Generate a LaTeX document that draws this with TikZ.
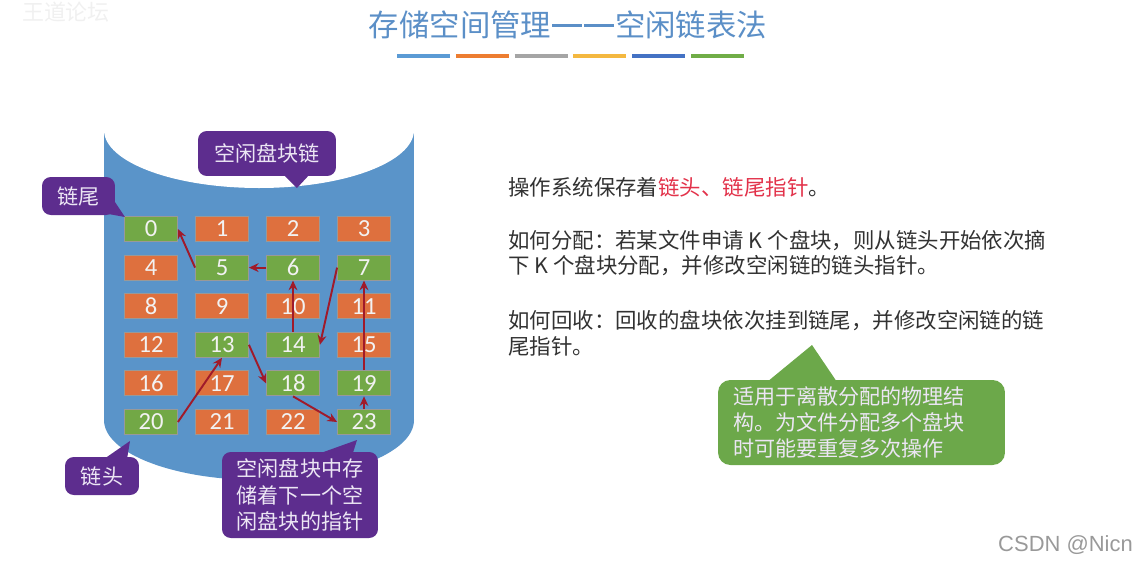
\documentclass[tikz,border=0pt]{standalone}
\usepackage{fontspec}
\setmainfont{Carlito}
\newfontfamily\cjk{Noto Sans CJK SC}
\newfontfamily\wmfont{Liberation Sans}
\usetikzlibrary{arrows.meta,positioning,calc}

\definecolor{titleblue}{RGB}{91,143,199}
\definecolor{lnA}{RGB}{91,155,213}
\definecolor{lnB}{RGB}{237,125,49}
\definecolor{lnC}{RGB}{165,165,165}
\definecolor{lnD}{RGB}{244,184,64}
\definecolor{lnE}{RGB}{68,114,196}
\definecolor{lnF}{RGB}{112,173,71}
\definecolor{cylblue}{RGB}{90,148,201}
\definecolor{blkorg}{RGB}{222,112,62}
\definecolor{blkgrn}{RGB}{114,168,70}
\definecolor{lnkred}{RGB}{160,26,42}
\definecolor{callpurple}{RGB}{93,45,142}
\definecolor{callgreen}{RGB}{108,168,74}
\definecolor{calltext}{RGB}{236,230,244}
\definecolor{txtgray}{RGB}{50,50,50}
\definecolor{hlred}{RGB}{226,50,74}

\newcommand\wdash{\makebox[1.05em]{\rule[0.33em]{1em}{0.07em}}}

\begin{document}
\begin{tikzpicture}[
  x=0.02cm, y=-0.02cm,
  >={Stealth[length=5.5pt,width=5pt]},
  ttl/.style  = {font=\cjk\fontsize{17.3}{19}\selectfont, text=titleblue, inner sep=0pt},
  blk/.style  = {draw=black!40, line width=0.5pt, minimum width=1.06cm,
                 minimum height=0.5cm, inner sep=0pt, text=white!95!black,
                 font=\fontsize{14}{15}\selectfont},
  lnk/.style  = {->, line width=1.1pt, draw=lnkred},
  callp/.style = {fill=callpurple, rounded corners=5pt, text=calltext,
                  font=\cjk\fontsize{12}{15.3}\selectfont, inner sep=0pt, align=center},
  callg/.style = {fill=callgreen, rounded corners=7pt, text=calltext,
                  font=\cjk\fontsize{12}{14.7}\selectfont, inner ysep=0pt,
                  inner xsep=0.3cm, align=left},
  txt/.style  = {anchor=west, align=left, text=txtgray, inner sep=0pt,
                 font=\cjk\fontsize{12.2}{14.7}\selectfont},
]
\useasboundingbox (0,0) rectangle (1142,565);

% watermarks
\node[font=\cjk\fontsize{12.5}{14}\selectfont, text=black!6] (wm) at (66,12) {王道论坛};
\node[font=\wmfont\fontsize{12.5}{14}\selectfont, text=black!40, anchor=east] (csdn) at (1139,545) {CSDN @Nicn};

% title
\node[ttl] (title) at (568,25) {存储空间管理\wdash\wdash 空闲链表法};
\foreach \i/\c in {0/lnA,1/lnB,2/lnC,3/lnD,4/lnE,5/lnF}{
  \draw[line width=2.3pt,\c] ({397+58.8*\i},56) -- ++(53,0);
}

% disk
\def\cx{259} \def\rx{155}
\fill[cylblue] (\cx-\rx,130) rectangle (\cx+\rx,420);
\fill[cylblue] (\cx,420) ellipse [x radius=\rx, y radius=60];
\fill[white]   (\cx,130) ellipse [x radius=\rx, y radius=58];

% blocks
\foreach \n/\c in {0/grn,1/org,2/org,3/org,4/org,5/grn,6/grn,7/grn,
                   8/org,9/org,10/org,11/org,12/org,13/grn,14/grn,15/org,
                   16/org,17/org,18/grn,19/grn,20/grn,21/org,22/org,23/grn}{
  \pgfmathtruncatemacro\col{mod(\n,4)}
  \pgfmathtruncatemacro\row{\n/4}
  \node[blk,fill=blk\c] (b\n) at ({151+71*\col},{229+38.6*\row}) {\n};
}

% free chain
\draw[lnk] (b20.east)  -- (b13.south);
\draw[lnk] (b13.east)  -- (b18.west);
\draw[lnk] (b18.south) -- (b23.west);
\draw[lnk] (b23.north) -- (b19.south);
\draw[lnk] (b19.north) -- (b7.south);
\draw[lnk] (b7.west)   -- (b14.east);
\draw[lnk] (b14.north) -- (b6.south);
\draw[lnk] (b6.west)   -- (b5.east);
\draw[lnk] (b5.west)   -- (b0.east);

% callouts
\node[callp,minimum width=2.76cm,minimum height=0.9cm] (chainlbl) at (267,153.5) {空闲盘块链};
\fill[callpurple] (283,174) -- (297,188) -- (310,174) -- cycle;

\node[callp,minimum width=1.46cm,minimum height=0.76cm] (taillbl) at (78.5,196) {链尾};
\fill[callpurple] (113,199) -- (125,217) -- (103,213) -- cycle;

\node[callp,minimum width=1.48cm,minimum height=0.76cm] (headlbl) at (102,476) {链头};
\fill[callpurple] (104,459) -- (130,441) -- (127,459) -- cycle;

\node[callp,minimum width=3.12cm,minimum height=1.72cm] (ptrlbl) at (300,495)
  {空闲盘块中存\\储着下一个空\\闲盘块的指针};
\fill[callpurple] (318,454) -- (357,440) -- (352,456) -- cycle;

\node[callg,text width=5.14cm,minimum height=1.7cm] (notelbl) at (861.5,422.5)
  {适用于离散分配的物理结\\构。为文件分配多个盘块\\时可能要重复多次操作};
\fill[callgreen] (767,382) -- (812,345) -- (837,382) -- cycle;

% explanation
\node[txt] (keep) at (508,187) {操作系统保存着\textcolor{hlred}{链头、链尾指针}。};
\node[txt] (alloc) at (508,253)
  {如何分配：若某文件申请 K 个盘块，则从链头开始依次摘\\下 K 个盘块分配，并修改空闲链的链头指针。};
\node[txt] (recyc) at (508,333)
  {如何回收：回收的盘块依次挂到链尾，并修改空闲链的链\\尾指针。};

\end{tikzpicture}
\end{document}
